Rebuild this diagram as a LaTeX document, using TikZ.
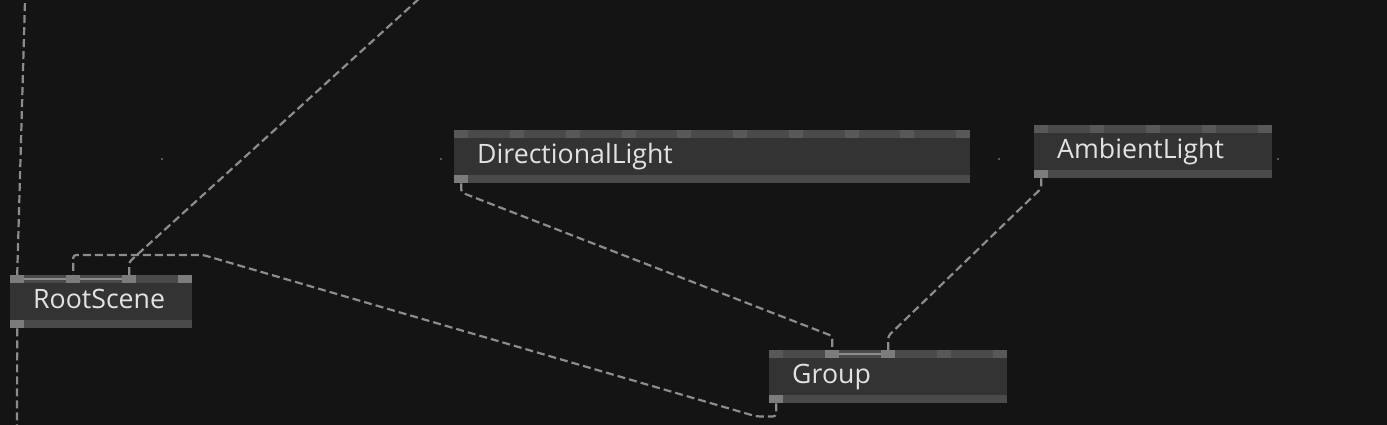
\documentclass[tikz,border=0pt]{standalone}
\usepackage{fontspec}
\setmainfont{Open Sans}
\usetikzlibrary{calc}

\definecolor{bg}{HTML}{141414}
\definecolor{opbody}{HTML}{333333}
\definecolor{opstrip}{HTML}{4A4A4A}
\definecolor{portdark}{HTML}{585858}
\definecolor{portlive}{HTML}{7C7C7C}
\definecolor{optext}{HTML}{E2E2E2}
\definecolor{cablegray}{HTML}{8C8C8C}

\tikzset{
  op/.style={rectangle, anchor=north west, fill=opbody, minimum height=53pt,
    inner xsep=23pt, inner ysep=0pt, text height=19pt, text depth=5pt,
    align=left, text=optext, font=\fontsize{26.7}{30}\selectfont,
    path picture={
      \fill[opstrip] (path picture bounding box.north west) rectangle ([yshift=-8pt]path picture bounding box.north east);
      \fill[opstrip] (path picture bounding box.south west) rectangle ([yshift=8pt]path picture bounding box.south east);
    }},
  inport/.style={rectangle, anchor=north west, minimum width=14pt, minimum height=8pt, inner sep=0pt, fill=#1},
  inport/.default=portdark,
  outport/.style={rectangle, anchor=south west, minimum width=14pt, minimum height=8pt, inner sep=0pt, fill=portlive},
  cable/.style={draw=cablegray, line width=2.2pt, dash pattern=on 8pt off 4pt, rounded corners=3pt},
  link/.style={draw=cablegray, line width=1.5pt},
  dot/.style={fill=portdark}
}

\begin{document}
\begin{tikzpicture}[x=1pt,y=-1pt]
  \fill[bg] (0,0) rectangle (1387,425);
  \useasboundingbox (0,0) rectangle (1387,425);
  \clip (0,0) rectangle (1387,425);

  \node[op, minimum width=182pt, text width=136pt] (root) at (10,275) {RootScene};
  \node[op, minimum width=516pt, text width=470pt] (dl) at (454,130) {DirectionalLight};
  \node[op, minimum width=238pt, text width=192pt] (amb) at (1034,125) {AmbientLight};
  \node[op, minimum width=238pt, text width=192pt] (group) at (769,350) {Group};

  \foreach \i in {0,...,3}
    \node[inport=portlive] (root-in\i) at ($(root.north west)+(\i*56,0)$) {};
  \foreach \i in {0,...,9}
    \node[inport] (dl-in\i) at ($(dl.north west)+(\i*55.78,0)$) {};
  \foreach \i in {0,...,4}
    \node[inport] (amb-in\i) at ($(amb.north west)+(\i*56,0)$) {};
  \foreach \i/\c in {0/portdark,1/portlive,2/portlive,3/portdark,4/portdark}
    \node[inport=\c] (group-in\i) at ($(group.north west)+(\i*56,0)$) {};

  \node[outport] (root-out) at (root.south west) {};
  \node[outport] (dl-out) at (dl.south west) {};
  \node[outport] (amb-out) at (amb.south west) {};
  \node[outport] (group-out) at (group.south west) {};

  \path[link] (root-in0) -- (root-in1);
  \path[link] (root-in1) -- (root-in2);
  \path[link] (group-in1) -- (group-in2);

  \coordinate (up1) at (25.3,-10);
  \coordinate (up2) at (432,-13);
  \coordinate (down1) at (17,440);

  \draw[cable] (group-out.south) -- ++(0,13) -- ++(-20,0)
    -- ($(root-in1.north)+(130,-20)$) -- ($(root-in1.north)+(0,-20)$) -- (root-in1.north);
  \draw[cable] (dl-out.south) -- ++(0,9) -- ($(group-in1.north)+(0,-14)$) -- (group-in1.north);
  \draw[cable] (amb-out.south) -- ++(0,10) -- ($(group-in2.north)+(0,-14)$) -- (group-in2.north);
  \draw[cable] (root-in2.north) -- ++(0,-13) -- (up2);
  \draw[cable] (root-in0.north) -- (up1);
  \draw[cable] (root-out.south) -- (down1);

  \foreach \x in {162,441,999,1278}
    \fill[dot] (\x-1,158) rectangle +(2,2);
\end{tikzpicture}
\end{document}
